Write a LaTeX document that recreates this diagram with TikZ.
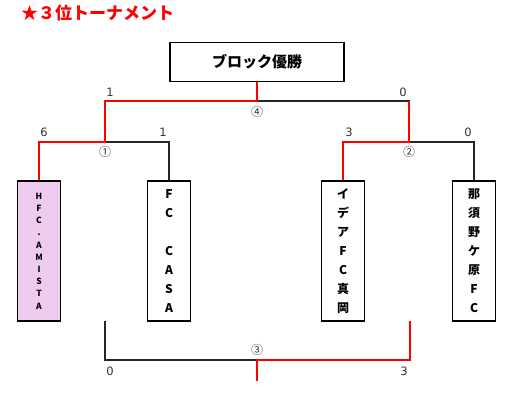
\documentclass[tikz,border=0pt]{standalone}
\usepackage{fontspec}
\newfontfamily\cjk{Noto Sans CJK JP}
\newfontfamily\dv{DejaVu Sans}
\definecolor{pinkfill}{HTML}{EFCBEE}
\definecolor{lbl}{HTML}{333333}
\tikzset{
  team/.style={draw=black, line width=1.6pt, minimum width=43pt, minimum height=140pt, inner sep=0pt, align=center, font=\cjk\bfseries\fontsize{12}{19}\selectfont},
  blk/.style={draw=black!85, line width=1.6pt},
  win/.style={draw=red, line width=2.6pt},
  score/.style={font=\dv\fontsize{11.5}{13}\selectfont, text=lbl, inner sep=0pt},
  circ/.style={font=\cjk\fontsize{12}{14}\selectfont, text=lbl, inner sep=0pt},
}
\begin{document}
\begin{tikzpicture}[x=1pt,y=-1pt]
\useasboundingbox (0,0) rectangle (513,402);
\node[anchor=west, text=red, font=\cjk\bfseries\fontsize{17}{19}\selectfont, inner sep=0pt] (title) at (21,13) {★３位トーナメント};
\node[draw=black, line width=1.6pt, minimum width=174pt, minimum height=39pt, inner sep=0pt, font=\cjk\bfseries\fontsize{15}{17}\selectfont] (top) at (257,62) {ブロック優勝};
\node[team, fill=pinkfill, font=\cjk\bfseries\fontsize{8.5}{12.2}\selectfont] (t1) at (39,251) {H\\F\\C\\.\\A\\M\\I\\S\\T\\A};
\node[team] (t2) at (169,251) {F\\C\\\mbox{}\\C\\A\\S\\A};
\node[team] (t3) at (343,251) {イ\\デ\\ア\\F\\C\\真\\岡};
\node[team] (t4) at (474,251) {那\\須\\野\\ケ\\原\\F\\C};
% junction coordinates
\coordinate (fm) at (257,101);
\coordinate (fl) at (105,101);
\coordinate (fr) at (409,101);
\coordinate (s1) at (105,142);
\coordinate (s2) at (409,142);
\coordinate (a1) at (39,142);
\coordinate (a2) at (169,142);
\coordinate (a3) at (343,142);
\coordinate (a4) at (474,142);
\coordinate (bl) at (105,321);
\coordinate (blc) at (105,360);
\coordinate (bm) at (257,360);
\coordinate (brc) at (410,360);
\coordinate (br) at (410,321);
\coordinate (bs) at (257,381);
% losing lines
\draw[blk] (fm) -- (fr) -- (s2);
\draw[blk] (s1) -- (a2) -- (t2.north);
\draw[blk] (s2) -- (a4) -- (t4.north);
\draw[blk] (bl) -- (blc) -- (bm);
% winning lines
\draw[win] (top.south) -- (fm) -- (fl) -- (s1) -- (a1) -- (t1.north);
\draw[win] (fr) -- (s2) -- (a3) -- (t3.north);
\draw[win] (br) -- (brc) -- (bm) -- (bs);
% labels
\node[score] (sc1) at (110,92) {1};
\node[score] (sc2) at (403,92) {0};
\node[score] (sc3) at (44,132) {6};
\node[score] (sc4) at (163,132) {1};
\node[score] (sc5) at (349,132) {3};
\node[score] (sc6) at (468,132) {0};
\node[score] (sc7) at (110,371) {0};
\node[score] (sc8) at (404,371) {3};
\node[circ] (m4) at (257,112) {④};
\node[circ] (m1) at (105,152) {①};
\node[circ] (m2) at (409,152) {②};
\node[circ] (m3) at (257,350) {③};
\end{tikzpicture}
\end{document}
